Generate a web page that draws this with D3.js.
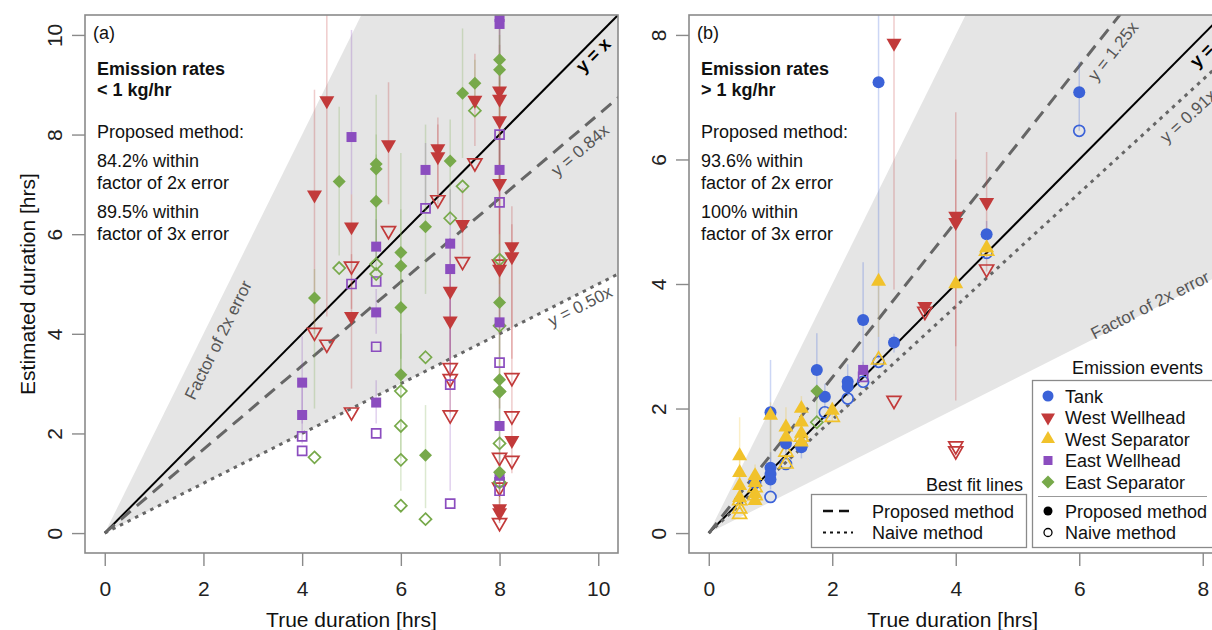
<!DOCTYPE html>
<html><head><meta charset="utf-8">
<script src="https://cdn.jsdelivr.net/npm/d3@7"></script>
<style>
body{margin:0;background:#fff}
text{font-family:"Liberation Sans",Arial,Helvetica,sans-serif}
</style>
</head><body>
<svg id="c" width="1212" height="630"></svg>
<script>
// ---------------- DATA ----------------
// tick labels
const ticksA = [0, 2, 4, 6, 8, 10];
const ticksB = [0, 2, 4, 6, 8];
const categories = ["Tank", "West Wellhead", "West Separator", "East Wellhead", "East Separator"];
const catColors = ["#3b62d8", "#c23a3a", "#f1c22b", "#8b4dbf", "#77a94a"];
// best-fit slopes
const slopesA = {proposed: 0.84, naive: 0.50};
const slopesB = {proposed: 1.25, naive: 0.91};

// Panel (a): proposed estimates [true, estimate, lowerBound, upperBound]
const aWestWellheadProposed = [
  [4.25, 6.79, 4.0, 8.9], [4.5, 8.68, 4.35, 10.6], [5, 6.15, 4.5, 6.8], [5, 4.35, 2.9, 5.6],
  [5.75, 7.8, 6.6, 9.05], [6.75, 7.72, 6.6, 8.34], [6.75, 7.56, 6.8, 8.2],
  [7, 4.86, 3.2, 5.8], [7, 4.26, 2.4, 5.3], [7.25, 6.2, 5.57, 6.92], [7.5, 8.69, 7.77, 9.62],
  [8, 8.88, 6.0, 10.6], [8, 8.71, 7.0, 9.8], [8, 8.28, 5.0, 9.2], [8, 7.02, 4.0, 8.0], [8, 5.3, 2.5, 6.5],
  [8, 0.49, 0.2, 1.5], [8, 0.41, 0.2, 1.0],
  [8.25, 5.75, 2.6, 6.56], [8.25, 5.55, 3.5, 6.2], [8.25, 1.86, 1.2, 2.6]
];
const aWestWellheadNaive = [
  [4.25, 4.03], [4.5, 3.79], [5, 5.36], [5, 2.43], [5.75, 6.07], [6.75, 6.69], [7, 3.32], [7, 3.1], [7, 2.37],
  [7.25, 5.45], [7.5, 7.43], [8, 5.4], [8, 1.52], [8, 0.92], [8, 0.21], [8.25, 3.12], [8.25, 2.35], [8.25, 1.46]
];
const aEastWellheadProposed = [
  [4, 3.02, 2.2, 3.95], [4, 2.37, 1.8, 3.0], [5, 7.95, 6.8, 10.1],
  [5.5, 5.75, 5.5, 6.3], [5.5, 4.43, 4.0, 4.9], [5.5, 2.62, 2.2, 3.07], [6.5, 7.29, 6.6, 7.83],
  [7, 5.81, 3.0, 6.9], [7, 5.3, 0.85, 5.8],
  [8, 10.36, 9.5, 10.6], [8, 10.22, 9.0, 10.6], [8, 7.29, 6.5, 8.0], [8, 4.23, 3.5, 5.0], [8, 2.15, 1.5, 3.0], [8, 1.15, 0.8, 1.6]
];
const aEastWellheadNaive = [
  [4, 1.94], [4, 1.65], [5, 5.0], [5.5, 5.05], [5.5, 3.74], [5.5, 2.0], [6.5, 6.52], [7, 2.98], [7, 0.59],
  [8, 8.0], [8, 6.64], [8, 3.42], [8, 1.02], [8, 0.85]
];
const aEastSeparatorProposed = [
  [4.25, 4.72, 2.5, 5.3], [4.75, 7.06, 5.57, 8.56], [5.5, 7.41, 5.8, 8.8], [5.5, 7.31, 5.5, 8.0], [5.5, 6.66, 5.3, 7.6],
  [6, 5.63, 3.5, 7.63], [6, 5.36, 3.0, 6.5], [6, 4.53, 1.5, 5.5], [6, 3.18, 0.85, 4.0],
  [6.5, 6.15, 4.8, 8.2], [6.5, 1.56, 0.5, 2.57], [7, 7.47, 6.3, 8.3], [7.25, 8.83, 7.53, 10.13], [7.5, 9.03, 8.5, 9.5],
  [8, 9.5, 8.5, 10.5], [8, 9.3, 7.0, 10.0], [8, 4.63, 3.5, 6.0], [8, 3.08, 2.0, 4.0], [8, 2.84, 1.5, 3.5], [8, 1.22, 0.6, 2.0]
];
const aEastSeparatorNaive = [
  [4.25, 1.52], [4.75, 5.32], [5.5, 5.4], [5.5, 5.2], [6, 2.85], [6, 2.15], [6, 1.47], [6, 0.55],
  [6.5, 3.53], [6.5, 0.28], [7, 6.32], [7.25, 6.96], [7.5, 8.48], [8, 5.49], [8, 4.16], [8, 2.84], [8, 1.8], [8, 1.02]
];

// Panel (b)
const bTankProposed = [
  [1, 1.94, 1.0, 2.78], [1, 1.05, 0.9, 1.3], [1, 0.95, 0.8, 1.1], [1, 0.86, 0.7, 1.0],
  [1.25, 1.44, 1.2, 1.6], [1.5, 1.38, 1.2, 1.5], [1.75, 2.62, 2.3, 3.21], [1.88, 2.19, 2.0, 2.4],
  [2.25, 2.43, 2.2, 2.71], [2.25, 2.35, 2.2, 2.5], [2.5, 3.42, 2.6, 4.35], [2.75, 7.24, 2.8, 8.6],
  [3.0, 3.06, 2.9, 3.2], [4.5, 4.8, 4.55, 5.01], [6, 7.08, 6.46, 7.57]
];
const bTankNaive = [
  [0.75, 0.81], [1, 0.58], [1.25, 1.11], [1.5, 1.4], [1.88, 1.94], [2.25, 2.16], [2.5, 2.43], [2.75, 2.75], [4.5, 4.5], [6, 6.46]
];
const bWestWellheadProposed = [
  [3.0, 7.87, 3.91, 8.6], [3.5, 3.64, 3.5, 3.7], [4, 5.09, 2.13, 6.76], [4, 4.99, 3.0, 6.0], [4.5, 5.31, 4.2, 6.12]
];
const bWestWellheadNaive = [[3.0, 2.13], [3.5, 3.56], [4, 1.40], [4, 1.32], [4.5, 4.24]];
const bWestSeparatorProposed = [
  [0.5, 1.24, 1.0, 1.86], [0.5, 0.97, 0.6, 1.3], [0.5, 0.76, 0.5, 1.0], [0.5, 0.57, 0.4, 0.8],
  [0.75, 0.92, 0.7, 1.1], [0.75, 0.81, 0.7, 0.9], [0.75, 0.63, 0.5, 0.8], [0.75, 0.52, 0.45, 0.6],
  [1, 1.89, 1.2, 2.1], [1.25, 1.7, 1.5, 2.02], [1.25, 1.54, 1.3, 1.8],
  [1.5, 2.0, 1.7, 2.2], [1.5, 1.78, 1.6, 1.9], [1.5, 1.6, 1.5, 1.7], [1.5, 1.46, 1.4, 1.5],
  [2.0, 1.97, 1.8, 2.1], [2.75, 4.04, 3.15, 4.1], [4, 4.0, 3.9, 4.1], [4.5, 4.58, 4.5, 4.7]
];
const bWestSeparatorNaive = [
  [0.5, 0.52], [0.5, 0.39], [0.5, 0.3], [0.75, 0.73], [0.75, 0.6], [1.25, 1.3], [1.25, 1.11],
  [1.5, 1.54], [2.0, 1.86], [2.75, 2.78], [4.5, 4.53]
];
const bEastWellheadProposed = [[2.5, 2.62, 2.5, 2.75]];
const bEastWellheadNaive = [[2.5, 2.51]];
const bEastSeparatorProposed = [[1.75, 2.28, 1.8, 2.3]];
const bEastSeparatorNaive = [[1.75, 1.78]];

// ---------------- DRAWING ----------------
const svg = d3.select("#c");
const defs = svg.append("defs");
const BOX = "#8a8a8a";

function symPath(type, s) {
  const p = d3.path();
  if (type === "circle") { p.arc(0, 0, s / 2, 0, 2 * Math.PI); p.closePath(); }
  else if (type === "triDown") { const h = s * 0.866; p.moveTo(-s / 2, -h / 3); p.lineTo(s / 2, -h / 3); p.lineTo(0, 2 * h / 3); p.closePath(); }
  else if (type === "triUp") { const h = s * 0.866; p.moveTo(-s / 2, h / 3); p.lineTo(s / 2, h / 3); p.lineTo(0, -2 * h / 3); p.closePath(); }
  else if (type === "square") { p.rect(-s / 2, -s / 2, s, s); }
  else if (type === "diamond") { p.moveTo(0, -s / 2); p.lineTo(s / 2, 0); p.lineTo(0, s / 2); p.lineTo(-s / 2, 0); p.closePath(); }
  return p.toString();
}
const catShape = ["circle", "triDown", "triUp", "square", "diamond"];
const filledSize = {circle: 12, triDown: 15, triUp: 15, square: 10, diamond: 13};
const openSize = {circle: 11, triDown: 14, triUp: 14, square: 9, diamond: 12};

function panel(cfg) {
  const x = d3.scaleLinear().domain(cfg.dom).range([cfg.x0, cfg.x1]);
  const y = d3.scaleLinear().domain(cfg.dom).range([cfg.y1, cfg.y0]);
  const cid = "clip" + cfg.id;
  defs.append("clipPath").attr("id", cid).append("rect")
    .attr("x", cfg.x0).attr("y", cfg.y0).attr("width", cfg.x1 - cfg.x0).attr("height", cfg.y1 - cfg.y0);
  const g = svg.append("g").attr("clip-path", `url(#${cid})`);
  const big = 40;
  g.append("path").attr("fill", "#e5e5e5")
    .attr("d", d3.line()([[x(0), y(0)], [x(big), y(2 * big)], [x(big), y(0.5 * big)]]));
  const angle = k => -Math.atan(k * (y(0) - y(1)) / (x(1) - x(0))) * 180 / Math.PI;
  // reference / fit lines
  g.append("line").attr("x1", x(0)).attr("y1", y(0)).attr("x2", x(big)).attr("y2", y(big))
    .attr("stroke", "#000").attr("stroke-width", 2);
  g.append("line").attr("x1", x(0)).attr("y1", y(0)).attr("x2", x(big)).attr("y2", y(big * cfg.slopes.proposed))
    .attr("stroke", "#666").attr("stroke-width", 3).attr("stroke-dasharray", "13,8");
  g.append("line").attr("x1", x(0)).attr("y1", y(0)).attr("x2", x(big)).attr("y2", y(big * cfg.slopes.naive))
    .attr("stroke", "#666").attr("stroke-width", 3).attr("stroke-dasharray", "3.5,5");
  // rotated labels
  const lab = (txt, pos, k, opts = {}) => {
    g.append("text").attr("transform", `translate(${pos[0]},${pos[1]}) rotate(${angle(k)})`)
      .attr("text-anchor", "middle").attr("dy", "0.35em")
      .attr("font-size", opts.size || 17).attr("font-weight", opts.bold ? "bold" : "normal")
      .attr("fill", opts.color || "#555").text(txt);
  };
  cfg.labels.forEach(l => lab(l.t, l.p, l.k, l));
  // error bars
  cfg.series.forEach(s => {
    g.selectAll(null).data(s.proposed).join("line")
      .attr("x1", d => x(d[0])).attr("x2", d => x(d[0]))
      .attr("y1", d => y(d[2])).attr("y2", d => y(d[3]))
      .attr("stroke", catColors[s.cat]).attr("stroke-width", 1.5).attr("stroke-opacity", 0.26);
  });
  // naive (open) points
  cfg.series.forEach(s => {
    const sh = catShape[s.cat];
    g.selectAll(null).data(s.naive).join("path")
      .attr("d", symPath(sh, openSize[sh]))
      .attr("transform", d => `translate(${x(d[0])},${y(d[1])})`)
      .attr("fill", "none").attr("stroke", catColors[s.cat]).attr("stroke-width", 1.7);
  });
  // proposed (filled) points
  cfg.series.forEach(s => {
    const sh = catShape[s.cat];
    g.selectAll(null).data(s.proposed).join("path")
      .attr("d", symPath(sh, filledSize[sh]))
      .attr("transform", d => `translate(${x(d[0])},${y(d[1])})`)
      .attr("fill", catColors[s.cat]);
  });
  // box
  svg.append("rect").attr("x", cfg.x0).attr("y", cfg.y0).attr("width", cfg.x1 - cfg.x0).attr("height", cfg.y1 - cfg.y0)
    .attr("fill", "none").attr("stroke", BOX).attr("stroke-width", 1.6);
  // axes
  const ax = svg.append("g").attr("transform", `translate(0,${cfg.y1})`)
    .call(d3.axisBottom(x).tickValues(cfg.ticks).tickSize(13).tickFormat(d3.format("d")));
  ax.select(".domain").remove();
  ax.selectAll("line").attr("stroke", BOX).attr("stroke-width", 1.4);
  ax.selectAll("text").attr("y", 43).attr("dy", 0).attr("font-size", 21).attr("fill", "#222")
    .attr("font-family", "'Liberation Sans',Arial,sans-serif");
  const ay = svg.append("g").attr("transform", `translate(${cfg.x0},0)`)
    .call(d3.axisLeft(y).tickValues(cfg.ticks).tickSize(13).tickFormat(d3.format("d")));
  ay.select(".domain").remove();
  ay.selectAll("line").attr("stroke", BOX).attr("stroke-width", 1.4);
  ay.selectAll("text").attr("x", null).attr("dy", 0).attr("text-anchor", "middle")
    .attr("transform", "translate(-23,0) rotate(-90)").attr("font-size", 21).attr("fill", "#222")
    .attr("font-family", "'Liberation Sans',Arial,sans-serif");
  // axis titles
  svg.append("text").attr("x", (cfg.x0 + cfg.x1) / 2 - (cfg.id === "B" ? 3 : 0)).attr("y", 627).attr("text-anchor", "middle")
    .attr("font-size", 21).attr("fill", "#111").text("True duration [hrs]");
  // panel text
  const tx = cfg.x0 + 12;
  const t = (s, yy, bold, xx) => svg.append("text").attr("x", xx || tx).attr("y", yy).attr("font-size", 18)
    .attr("font-weight", bold ? "bold" : "normal").attr("fill", "#111").text(s);
  t(cfg.tag, 39, false, cfg.x0 + 8);
  t("Emission rates", 75, true);
  t(cfg.rate, 96, true);
  t("Proposed method:", 138);
  t(cfg.p2 + " within", 167);
  t("factor of 2x error", 189);
  t(cfg.p3 + " within", 218);
  t("factor of 3x error", 240);
  return {x, y};
}

panel({
  id: "A", x0: 85, x1: 618, y0: 15, y1: 553, dom: [-0.4, 10.4], ticks: ticksA, slopes: slopesA,
  tag: "(a)", rate: "< 1 kg/hr", p2: "84.2%", p3: "89.5%",
  labels: [
    {t: "y = x", p: [593, 55], k: 1, bold: true, size: 18, color: "#000"},
    {t: "y = 0.84x", p: [580, 150], k: 0.84},
    {t: "y = 0.50x", p: [580, 306], k: 0.5},
    {t: "Factor of 2x error", p: [218, 340], k: 2}
  ],
  series: [
    {cat: 1, proposed: aWestWellheadProposed, naive: aWestWellheadNaive},
    {cat: 3, proposed: aEastWellheadProposed, naive: aEastWellheadNaive},
    {cat: 4, proposed: aEastSeparatorProposed, naive: aEastSeparatorNaive}
  ]
});

panel({
  id: "B", x0: 689, x1: 1222.5, y0: 15, y1: 553, dom: [-0.32, 8.32], ticks: ticksB, slopes: slopesB,
  tag: "(b)", rate: "> 1 kg/hr", p2: "93.6%", p3: "100%",
  labels: [
    {t: "y = x", p: [1207, 50], k: 1, bold: true, size: 18, color: "#000"},
    {t: "y = 1.25x", p: [1113, 51], k: 1.25},
    {t: "y = 0.91x", p: [1188, 116], k: 0.91},
    {t: "Factor of 2x error", p: [1150, 305], k: 0.5}
  ],
  series: [
    {cat: 0, proposed: bTankProposed, naive: bTankNaive},
    {cat: 1, proposed: bWestWellheadProposed, naive: bWestWellheadNaive},
    {cat: 2, proposed: bWestSeparatorProposed, naive: bWestSeparatorNaive},
    {cat: 3, proposed: bEastWellheadProposed, naive: bEastWellheadNaive},
    {cat: 4, proposed: bEastSeparatorProposed, naive: bEastSeparatorNaive}
  ]
});

// y axis title
svg.append("text").attr("transform", "translate(35,284) rotate(-90)").attr("text-anchor", "middle")
  .attr("font-size", 21).attr("fill", "#111").text("Estimated duration [hrs]");

// ---- Legend: best fit lines ----
svg.append("text").attr("x", 1023).attr("y", 491).attr("text-anchor", "end").attr("font-size", 18).attr("fill", "#111").text("Best fit lines");
svg.append("rect").attr("x", 811.5).attr("y", 494.5).attr("width", 215).attr("height", 53)
  .attr("fill", "#fff").attr("stroke", BOX).attr("stroke-width", 1.3);
const fitLeg = [["Proposed method", "10,6", 2.6], ["Naive method", "3,4", 2.2]];
fitLeg.forEach((d, i) => {
  const yy = 511 + i * 21.5;
  svg.append("line").attr("x1", 823).attr("x2", 853).attr("y1", yy).attr("y2", yy)
    .attr("stroke", "#111").attr("stroke-width", d[2]).attr("stroke-dasharray", d[1]);
  svg.append("text").attr("x", 872).attr("y", yy + 6.5).attr("font-size", 18).attr("fill", "#111").text(d[0]);
});

// ---- Legend: emission events ----
svg.append("text").attr("x", 1203).attr("y", 374).attr("text-anchor", "end").attr("font-size", 18).attr("fill", "#111").text("Emission events");
svg.append("rect").attr("x", 1032.5).attr("y", 380.5).attr("width", 200).attr("height", 167)
  .attr("fill", "#fff").attr("stroke", BOX).attr("stroke-width", 1.3);
categories.forEach((c, i) => {
  const yy = 396 + i * 21.5;
  const sh = catShape[i];
  const sz = {circle: 11, triDown: 14, triUp: 14, square: 9, diamond: 13}[sh];
  svg.append("path").attr("d", symPath(sh, sz)).attr("transform", `translate(1048,${yy})`).attr("fill", catColors[i]);
  svg.append("text").attr("x", 1065).attr("y", yy + 6.5).attr("font-size", 18).attr("fill", "#111").text(c);
});
svg.append("line").attr("x1", 1038).attr("x2", 1207).attr("y1", 496.5).attr("y2", 496.5).attr("stroke", "#999").attr("stroke-width", 1.2);
[["Proposed method", true], ["Naive method", false]].forEach((d, i) => {
  const yy = 511 + i * 21.5;
  svg.append("path").attr("d", symPath("circle", d[1] ? 9 : 8)).attr("transform", `translate(1048,${yy})`)
    .attr("fill", d[1] ? "#000" : "none").attr("stroke", "#000").attr("stroke-width", d[1] ? 0 : 1.3);
  svg.append("text").attr("x", 1065).attr("y", yy + 6.5).attr("font-size", 18).attr("fill", "#111").text(d[0]);
});
</script>
</body></html>
